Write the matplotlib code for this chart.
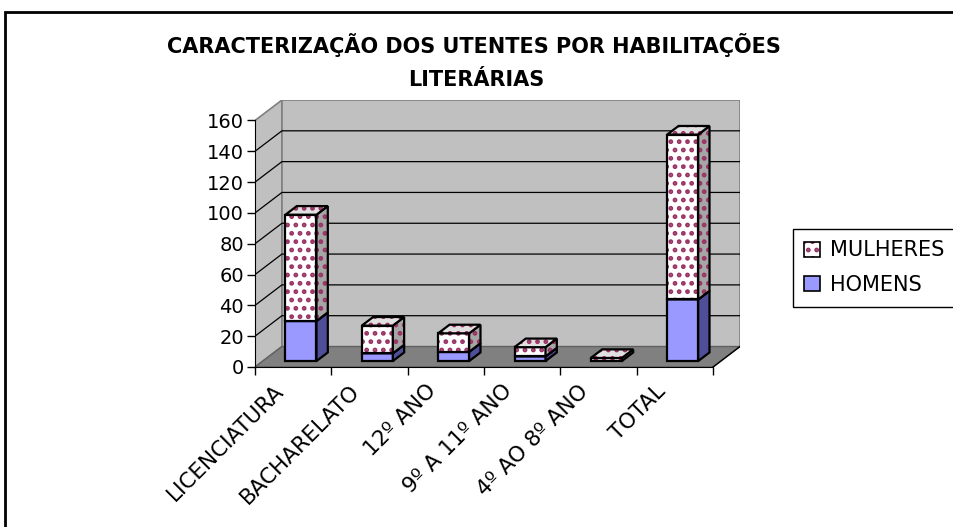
import matplotlib.pyplot as plt
from matplotlib.patches import Polygon, Patch, Rectangle
from matplotlib.transforms import ScaledTranslation

categorias = ['LICENCIATURA', 'BACHARELATO', '12º ANO', '9º A 11º ANO', '4º AO 8º ANO', 'TOTAL']
homens = [26, 5, 6, 3, 0, 40]
mulheres = [69, 18, 12, 6, 2, 107]
yticks = [0, 20, 40, 60, 80, 100, 120, 140, 160]

plt.rcParams['hatch.linewidth'] = 2.2

W, H = 954, 527
fig = plt.figure(figsize=(W / 100, H / 100), dpi=100)

# fake 3d: depth offset in data units
DX = 0.353
DY = 13.3
YMAX = yticks[-1]
n = len(categorias)
F0, F1 = 0.29, 0.71   # bar front / back depth fraction
BW = 0.406            # bar width

ax = fig.add_axes([255 / W, 1 - 367 / H, (740 - 255) / W, (367 - 100) / H])
ax.set_xlim(0, n + DX)
ax.set_ylim(0, YMAX + DY)
ax.patch.set_visible(False)

# walls and floor
ax.add_patch(Polygon([(0, 0), (DX, DY), (DX, YMAX + DY), (0, YMAX)],
                     facecolor='#c0c0c0', edgecolor='#808080', lw=1.2, zorder=0))
ax.add_patch(Polygon([(DX, DY), (n + DX, DY), (n + DX, YMAX + DY), (DX, YMAX + DY)],
                     facecolor='#c0c0c0', edgecolor='#808080', lw=1.2, zorder=0))
ax.add_patch(Polygon([(0, 0), (n, 0), (n + DX, DY), (DX, DY)],
                     facecolor='#808080', edgecolor='#606060', lw=1, zorder=0))
ax.plot([n, n + DX], [0, DY], color='black', lw=1, zorder=0.5)
for v in yticks[1:-1]:
    ax.plot([0, DX, n + DX], [v, v + DY, v + DY], color='black', lw=0.9, zorder=0.5)

PAT = '#993366'


def pt(x, y, f):
    return (x + f * DX, y + f * DY)


def caixa(i, b, t, face, side, top, hatch=None):
    x0 = i + 0.5 - BW / 2
    x1 = i + 0.5 + BW / 2
    front = [pt(x0, b, F0), pt(x1, b, F0), pt(x1, t, F0), pt(x0, t, F0)]
    right = [pt(x1, b, F0), pt(x1, b, F1), pt(x1, t, F1), pt(x1, t, F0)]
    cima = [pt(x0, t, F0), pt(x1, t, F0), pt(x1, t, F1), pt(x0, t, F1)]
    for pts, fc in ((front, face), (right, side), (cima, top)):
        if hatch:
            ax.add_patch(Polygon(pts, facecolor=fc, edgecolor=PAT, lw=0,
                                 hatch=hatch, zorder=2))
            ax.add_patch(Polygon(pts, fill=False, edgecolor='black', lw=1.6, zorder=2))
        else:
            ax.add_patch(Polygon(pts, facecolor=fc, edgecolor='black', lw=1.6, zorder=2))


for i in range(n):
    if homens[i] > 0:
        caixa(i, 0, homens[i], '#9999ff', '#4f4f99', '#7a7acc')
    if mulheres[i] > 0:
        caixa(i, homens[i], homens[i] + mulheres[i], 'white', '#a6a6a6', '#e0e0e0', hatch='..')

# axes
for s in ('top', 'right'):
    ax.spines[s].set_visible(False)
ax.spines['left'].set_bounds(0, YMAX)
ax.spines['bottom'].set_bounds(0, n)
ax.set_yticks(yticks)
ax.tick_params(axis='y', length=6, width=1, labelsize=14, pad=2)
ax.set_xticks(range(n + 1))
ax.set_xticklabels([])
ax.tick_params(axis='x', which='major', length=6, width=1)
ax.set_xticks([i + 0.5 for i in range(n)], minor=True)
ax.set_xticklabels(categorias, minor=True, rotation=45, ha='right',
                   rotation_mode='anchor', fontsize=15.5)
ax.tick_params(axis='x', which='minor', length=0, pad=10)
off = ScaledTranslation(-20 / 100, 0, fig.dpi_scale_trans)
for lab in ax.get_xticklabels(minor=True):
    lab.set_transform(lab.get_transform() + off)

fig.text(474 / W, 1 - 45 / H, 'CARACTERIZAÇÃO DOS UTENTES POR HABILITAÇÕES',
         ha='center', va='center', fontsize=15, fontweight='bold')
fig.text(476 / W, 1 - 80 / H, 'LITERÁRIAS',
         ha='center', va='center', fontsize=15, fontweight='bold')

h_mul = (Patch(facecolor='white', edgecolor=PAT, lw=0, hatch='..'),
         Patch(fill=False, edgecolor='black', lw=1.2))
h_hom = Patch(facecolor='#9999ff', edgecolor='black', lw=1.2)
leg = fig.legend(handles=[h_mul, h_hom], labels=['MULHERES', 'HOMENS'],
                 loc='upper left', bbox_to_anchor=(793 / W, 1 - 229 / H),
                 fancybox=False, edgecolor='black', fontsize=15, framealpha=1,
                 handlelength=0.75, handleheight=0.75, handletextpad=0.5,
                 borderaxespad=0, borderpad=0.55, labelspacing=0.7)
leg.get_frame().set_linewidth(1)

fig.add_artist(Rectangle((5 / W, -0.1), 1.2, 1 - 12 / H + 0.1, transform=fig.transFigure,
                         fill=False, edgecolor='black', lw=2))

fig.savefig('out.png', dpi=100)
